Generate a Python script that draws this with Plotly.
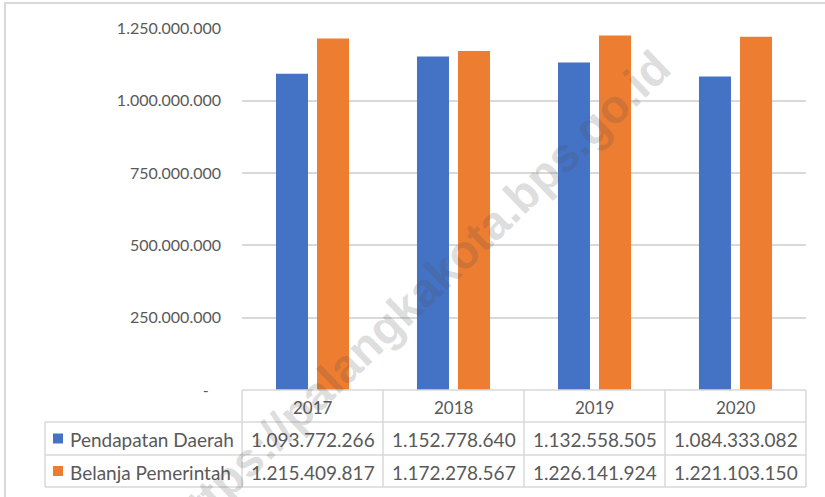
import plotly.graph_objects as go

# ---- data ----
years = ["2017", "2018", "2019", "2020"]
pendapatan = [1093772266, 1152778640, 1132558505, 1084333082]
belanja = [1215409817, 1172278567, 1226141924, 1221103150]
series_names = ["Pendapatan Daerah", "Belanja Pemerintah"]
tick_vals = [0, 250000000, 500000000, 750000000, 1000000000, 1250000000]
watermark = "https://palangkakota.bps.go.id"

# ---- style ----
W, H = 825, 497
BLUE = "#4472C4"
ORANGE = "#ED7D31"
GRID = "#D9D9D9"
TXT = "#595959"
FONT = "Lato"

def px(x):
    return x / W

def py(y):
    return 1 - y / H

def fmt(v):
    return f"{v:,}".replace(",", ".")

tick_text = [("-\u00a0\u00a0\u00a0" if v == 0 else fmt(v)) for v in tick_vals]

# plot area pixels
X0, X1 = 242, 806
Y0, Y1 = 390, 28.5
ROW = [390, 422, 455, 487]
KEY_X = 45

fig = go.Figure()
fig.add_trace(go.Bar(x=years, y=pendapatan, name=series_names[0],
                     marker=dict(color=BLUE, line=dict(width=0)), hoverinfo="skip"))
fig.add_trace(go.Bar(x=years, y=belanja, name=series_names[1],
                     marker=dict(color=ORANGE, line=dict(width=0)), hoverinfo="skip"))

shapes = []
annotations = []
line = dict(color=GRID, width=1.5)

# outer chart border
shapes.append(dict(type="rect", xref="paper", yref="paper",
                   x0=px(5), x1=px(W + 10), y0=py(3), y1=py(H + 10),
                   line=dict(color=GRID, width=2), layer="below"))

# table lines
ncol = len(years)
colw = (X1 - X0) / ncol
col_edges = [X0 + i * colw for i in range(ncol + 1)]
shapes.append(dict(type="line", xref="paper", yref="paper",
                   x0=px(X0), x1=px(X1), y0=py(ROW[0]), y1=py(ROW[0]), line=line))
for r in ROW[1:]:
    shapes.append(dict(type="line", xref="paper", yref="paper",
                       x0=px(KEY_X), x1=px(X1), y0=py(r), y1=py(r), line=line))
for cx in col_edges:
    shapes.append(dict(type="line", xref="paper", yref="paper",
                       x0=px(cx), x1=px(cx), y0=py(ROW[0]), y1=py(ROW[3]), line=line))
shapes.append(dict(type="line", xref="paper", yref="paper",
                   x0=px(KEY_X), x1=px(KEY_X), y0=py(ROW[1]), y1=py(ROW[3]), line=line))

# year header
for i, yr in enumerate(years):
    annotations.append(dict(x=px(col_edges[i] + colw / 2), y=py((ROW[0] + ROW[1]) / 2 + 1),
                            xref="paper", yref="paper", text=yr, showarrow=False,
                            xanchor="center", yanchor="middle",
                            font=dict(family=FONT, size=17, color=TXT)))

# rows
for ri, (name, vals, col) in enumerate(zip(series_names, [pendapatan, belanja], [BLUE, ORANGE])):
    yc = (ROW[ri + 1] + ROW[ri + 2]) / 2
    shapes.append(dict(type="rect", xref="paper", yref="paper",
                       x0=px(53), x1=px(63), y0=py(yc - 5), y1=py(yc + 5),
                       line=dict(width=0), fillcolor=col))
    annotations.append(dict(x=px(68), y=py(yc + 1), xref="paper", yref="paper",
                            text=name, showarrow=False, xanchor="left", yanchor="middle",
                            font=dict(family=FONT, size=19, color=TXT)))
    for i, v in enumerate(vals):
        annotations.append(dict(x=px(col_edges[i] + colw / 2), y=py(yc + 1),
                                xref="paper", yref="paper", text=fmt(v), showarrow=False,
                                xanchor="center", yanchor="middle",
                                font=dict(family=FONT, size=19, color=TXT)))

# watermark
annotations.append(dict(x=px(417), y=py(295), xref="paper", yref="paper",
                        text=watermark, showarrow=False, textangle=-44,
                        xanchor="center", yanchor="middle",
                        font=dict(family="Liberation Sans", size=47, weight="bold",
                                  color="rgba(80,80,80,0.2)")))

fig.update_layout(
    width=W, height=H, autosize=False,
    margin=dict(l=0, r=0, t=0, b=0, pad=0, autoexpand=False),
    paper_bgcolor="white", plot_bgcolor="white",
    showlegend=False,
    barmode="group", bargap=0.418, bargroupgap=0.22,
    shapes=shapes, annotations=annotations,
    xaxis=dict(domain=[px(X0), px(X1)], showticklabels=False, showgrid=False,
               zeroline=False, showline=False, ticks="", fixedrange=True,
               automargin=False),
    yaxis=dict(domain=[py(Y0), py(Y1)], range=[0, 1250000000],
               tickvals=tick_vals, ticktext=tick_text,
               showgrid=True, gridcolor=GRID, gridwidth=1.5,
               zeroline=False, showline=False, ticks="",
               ticklabelstandoff=20, automargin=False,
               tickfont=dict(family=FONT, size=16, color=TXT), fixedrange=True),
)

fig.write_html(
    "out.html",
    config={"displayModeBar": False},
    post_script="document.documentElement.style.margin='0';document.documentElement.style.padding='0';"
                "document.body.style.margin='0';document.body.style.padding='0';",
)
